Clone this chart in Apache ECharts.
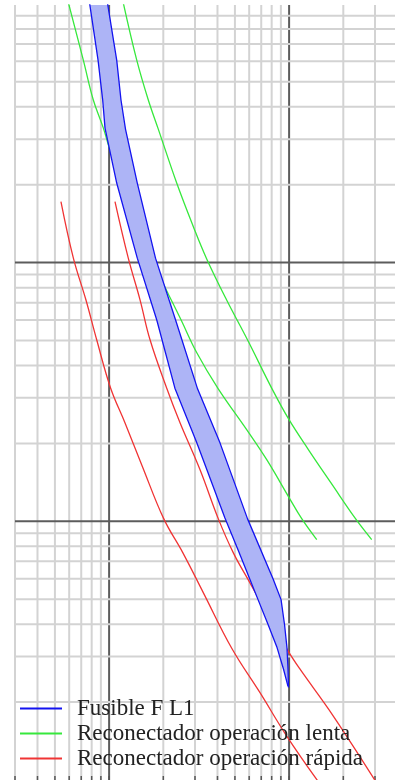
<!DOCTYPE html>
<html>
<head>
<meta charset="utf-8">
<script src="https://cdn.jsdelivr.net/npm/echarts@6/dist/echarts.min.js"></script>
<style>
html,body{margin:0;padding:0;background:#fff;}
#chart{width:395px;height:780px;}
</style>
</head>
<body>
<div id="chart"></div>
<script>
// Axis ranges (current in A, time in s)
const X_MIN = 30, X_MAX = 3875;
const Y_MIN = 0.01, Y_MAX = 9.9;

// Grid line values
const xTicks = [30,40,50,60,70,80,90,100,200,300,400,500,600,700,800,900,1000,2000,3000];
const xMajor = [100, 1000];
const yTicks = [0.02,0.03,0.04,0.05,0.06,0.07,0.08,0.09,0.1,0.2,0.3,0.4,0.5,0.6,0.7,0.8,0.9,1,2,3,4,5,6,7,8,9];
const yMajor = [0.1, 1];

// Series names
const nameFuse = 'Fusible F L1';
const nameSlow = 'Reconectador operación lenta';
const nameFast = 'Reconectador operación rápida';

// Fuse: minimum melting and total clearing curves [current, time]
const fuseMinMelt = [[78,10],[86.8,6.06],[92.1,4.25],[94.9,3.31],[110.2,2.03],[143.4,1.04],[183.8,0.601],[232,0.327],[307,0.201],[440,0.103],[520,0.0777],[606,0.0596],[672,0.0498],[764,0.0399],[857,0.0325],[931,0.0268],[986,0.023]];
const fuseTotalClear = [[98.1,10],[110.2,6.06],[116.4,4.25],[123.3,3.28],[143.4,2.03],[181,1.04],[233.8,0.601],[310,0.325],[413,0.201],[587,0.1024],[817,0.0596],[902,0.0498],[943,0.0399],[973,0.0325],[986,0.0268],[992,0.0228]];

// Recloser slow operation curves
const slowA = [[59.6,10],[71.9,6.06],[81.7,4.25],[92.9,3.31],[101.2,2.72],[118.7,1.995],[141.1,1.436],[164.5,1.12],[195.5,0.857],[250.8,0.601],[307,0.448],[404,0.325],[581,0.226],[751,0.173],[990,0.1249],[1175,0.1024],[1424,0.085]];
const slowB = [[120.2,10],[142.4,6.06],[165.1,4.25],[187.6,3.28],[237.4,2.03],[293.7,1.377],[348.5,1.033],[449,0.718],[587,0.503],[804,0.325],[999,0.247],[1282,0.189],[1709,0.1407],[2338,0.1024],[2876,0.085]];

// Recloser fast operation curves
const fastA = [[54,1.72],[63.3,1.04],[74.3,0.718],[85.3,0.503],[102,0.327],[122.6,0.24],[153,0.163],[201,0.1024],[257,0.0755],[334,0.0529],[480,0.0323],[689,0.02175],[970,0.01479],[1447,0.00989]];
const fastB = [[107.8,1.72],[127.8,1.04],[148.5,0.718],[168.8,0.503],[209,0.327],[248,0.24],[320,0.1583],[404,0.1024],[490,0.0755],[606,0.0578],[707,0.0477],[835,0.0389],[990,0.0314],[1150,0.0268],[1760,0.01767],[3000,0.00997]];

const C_BLUE = '#1414f0', C_GREEN = '#36e83c', C_RED = '#f03434', C_FILL = '#adb4f6';
const C_MINOR = '#d3d3d3', C_MAJOR = '#5c5c5c';

const chart = echarts.init(document.getElementById('chart'), null, {renderer: 'canvas'});

function vGrid(params, api) {
  const v = api.value(0);
  const cs = params.coordSys;
  const p = api.coord([v, api.value(1)]);
  const major = xMajor.includes(v);
  return {
    type: 'group',
    children: [
      {type: 'line', shape: {x1: p[0], y1: cs.y, x2: p[0], y2: cs.y + cs.height},
       style: {stroke: major ? C_MAJOR : C_MINOR, lineWidth: 2}},
      {type: 'line', shape: {x1: p[0], y1: cs.y + cs.height - 4, x2: p[0], y2: cs.y + cs.height},
       style: {stroke: '#555', lineWidth: 1.5}}
    ]
  };
}
function hGrid(params, api) {
  const v = api.value(1);
  const cs = params.coordSys;
  const p = api.coord([api.value(0), v]);
  const major = yMajor.includes(v);
  return {type: 'line', shape: {x1: cs.x, y1: p[1], x2: cs.x + cs.width, y2: p[1]},
          style: {stroke: major ? C_MAJOR : C_MINOR, lineWidth: 2}};
}
function band(params, api) {
  const pts = fuseMinMelt.concat(fuseTotalClear.slice().reverse()).map(d => api.coord(d));
  return {type: 'polygon', shape: {points: pts}, style: {fill: C_FILL, stroke: null}};
}

function curve(name, data, color, z, smooth) {
  return {type: 'line', name: name, data: data, symbol: 'none', showSymbol: false,
          smooth: smooth,
          lineStyle: {color: color, width: 1.3}, itemStyle: {color: color},
          z: z, silent: true, animation: false};
}

chart.setOption({
  animation: false,
  grid: {left: 15, right: 0, top: 5, bottom: 0, containLabel: false},
  xAxis: {type: 'log', min: X_MIN, max: X_MAX, logBase: 10,
          axisLine: {show: false}, axisTick: {show: false}, axisLabel: {show: false}, splitLine: {show: false}},
  yAxis: {type: 'log', min: Y_MIN, max: Y_MAX, logBase: 10,
          axisLine: {show: false}, axisTick: {show: false}, axisLabel: {show: false}, splitLine: {show: false}},
  legend: {
    data: [nameFuse, nameSlow, nameFast],
    orient: 'vertical', left: 20, top: 697, itemGap: 2, padding: 0,
    icon: 'rect', itemWidth: 42, itemHeight: 2,
    textStyle: {fontFamily: 'Liberation Serif', fontSize: 23, color: '#222', padding: [0,0,0,10]},
    selectedMode: false
  },
  series: [
    {type: 'custom', name: 'vgrid', data: xTicks.map(v => [v, Y_MIN]), renderItem: vGrid, z: 1, silent: true},
    {type: 'custom', name: 'hgrid', data: yTicks.map(v => [X_MIN, v]), renderItem: hGrid, z: 1, silent: true},
    curve(nameSlow, slowA, C_GREEN, 2, 0.4),
    curve(nameSlow, slowB, C_GREEN, 2, 0.4),
    curve(nameFast, fastA, C_RED, 2, 0.4),
    curve(nameFast, fastB, C_RED, 2, 0.4),
    {type: 'custom', name: 'fuseBand', data: [fuseMinMelt[0]], renderItem: band, z: 3, clip: true, silent: true},
    curve(nameFuse, fuseMinMelt, C_BLUE, 4, false),
    curve(nameFuse, fuseTotalClear, C_BLUE, 4, false)
  ]
});
</script>
</body>
</html>
